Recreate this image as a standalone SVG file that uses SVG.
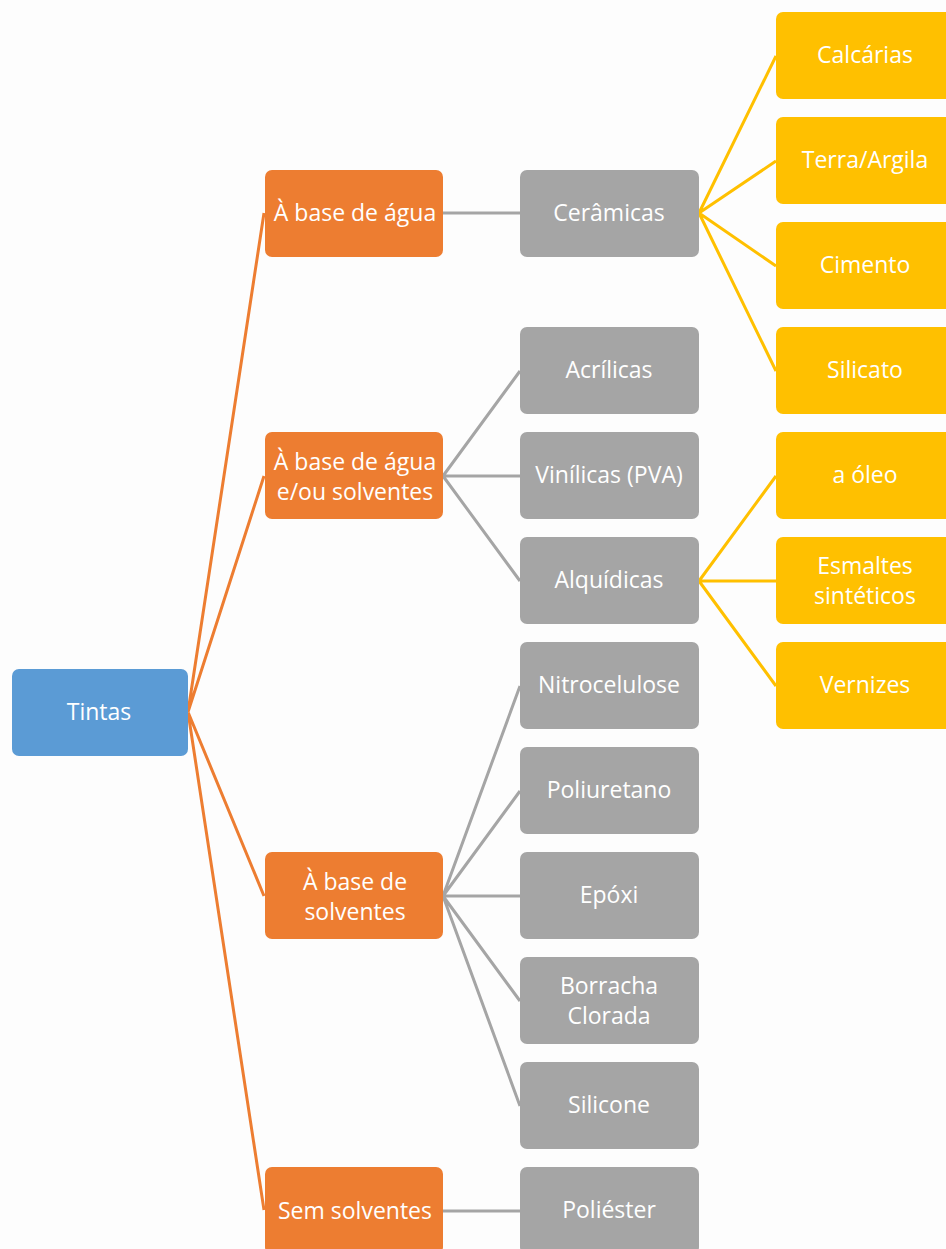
<svg xmlns="http://www.w3.org/2000/svg" width="946" height="1249" viewBox="0 0 946 1249">
<style>
.t{font-family:"Open Sans","Noto Sans","Liberation Sans",sans-serif;font-size:23px;fill:#fff;text-anchor:middle;dominant-baseline:central}
.b{fill:#5B9BD5}
.o{fill:#ED7D31}
.g{fill:#A5A5A5}
.y{fill:#FFC000}
.co{stroke:#ED7D31;stroke-width:3;fill:none}
.cg{stroke:#A5A5A5;stroke-width:3;fill:none}
.cy{stroke:#FFC000;stroke-width:3;fill:none}
</style>
<rect width="946" height="1249" fill="#FDFDFD"/>
<g id="connectors">
<path class="co" d="M188 712L264 213M188 712L264 476M188 712L264 896M188 712L264 1210"/>
<path class="cg" d="M443 213L520 213M443 476L520 371M443 476L520 476M443 476L520 581M443 896L520 686M443 896L520 791M443 896L520 896M443 896L520 1001M443 896L520 1106M443 1211L520 1211"/>
<path class="cy" d="M699 213L776 56M699 213L776 161M699 213L776 266M699 213L776 371M699 581L776 476M699 581L776 581M699 581L776 686"/>
</g>
<g id="n-tintas"><rect class="b" x="12" y="669" width="176" height="87" rx="7"/><text class="t" x="99" y="711" font-size="24">Tintas</text></g>
<g id="n-agua"><rect class="o" x="265" y="170" width="178" height="87" rx="7"/><text class="t" x="355" y="212">À base de água</text></g>
<g id="n-agua-solv"><rect class="o" x="265" y="432" width="178" height="87" rx="7"/><text class="t" x="355" y="461">À base de água</text><text class="t" x="355" y="491">e/ou solventes</text></g>
<g id="n-solv"><rect class="o" x="265" y="852" width="178" height="87" rx="7"/><text class="t" x="355" y="881">À base de</text><text class="t" x="355" y="911">solventes</text></g>
<g id="n-sem"><rect class="o" x="265" y="1167" width="178" height="87" rx="7"/><text class="t" x="355" y="1210">Sem solventes</text></g>
<g id="n-ceramicas"><rect class="g" x="520" y="170" width="179" height="87" rx="7"/><text class="t" x="609" y="212">Cerâmicas</text></g>
<g id="n-acrilicas"><rect class="g" x="520" y="327" width="179" height="87" rx="7"/><text class="t" x="609" y="369">Acrílicas</text></g>
<g id="n-vinilicas"><rect class="g" x="520" y="432" width="179" height="87" rx="7"/><text class="t" x="609" y="474">Vinílicas (PVA)</text></g>
<g id="n-alquidicas"><rect class="g" x="520" y="537" width="179" height="87" rx="7"/><text class="t" x="609" y="579">Alquídicas</text></g>
<g id="n-nitro"><rect class="g" x="520" y="642" width="179" height="87" rx="7"/><text class="t" x="609" y="684">Nitrocelulose</text></g>
<g id="n-poliuretano"><rect class="g" x="520" y="747" width="179" height="87" rx="7"/><text class="t" x="609" y="789">Poliuretano</text></g>
<g id="n-epoxi"><rect class="g" x="520" y="852" width="179" height="87" rx="7"/><text class="t" x="609" y="894">Epóxi</text></g>
<g id="n-borracha"><rect class="g" x="520" y="957" width="179" height="87" rx="7"/><text class="t" x="609" y="985">Borracha</text><text class="t" x="609" y="1015">Clorada</text></g>
<g id="n-silicone"><rect class="g" x="520" y="1062" width="179" height="87" rx="7"/><text class="t" x="609" y="1104">Silicone</text></g>
<g id="n-poliester"><rect class="g" x="520" y="1167" width="179" height="87" rx="7"/><text class="t" x="609" y="1209">Poliéster</text></g>
<g id="n-calcarias"><rect class="y" x="776" y="12" width="180" height="87" rx="7"/><text class="t" x="865" y="54">Calcárias</text></g>
<g id="n-terra"><rect class="y" x="776" y="117" width="180" height="87" rx="7"/><text class="t" x="865" y="159">Terra/Argila</text></g>
<g id="n-cimento"><rect class="y" x="776" y="222" width="180" height="87" rx="7"/><text class="t" x="865" y="264">Cimento</text></g>
<g id="n-silicato"><rect class="y" x="776" y="327" width="180" height="87" rx="7"/><text class="t" x="865" y="369">Silicato</text></g>
<g id="n-oleo"><rect class="y" x="776" y="432" width="180" height="87" rx="7"/><text class="t" x="865" y="474">a óleo</text></g>
<g id="n-esmaltes"><rect class="y" x="776" y="537" width="180" height="87" rx="7"/><text class="t" x="865" y="565">Esmaltes</text><text class="t" x="865" y="595">sintéticos</text></g>
<g id="n-vernizes"><rect class="y" x="776" y="642" width="180" height="87" rx="7"/><text class="t" x="865" y="684">Vernizes</text></g>
</svg>
